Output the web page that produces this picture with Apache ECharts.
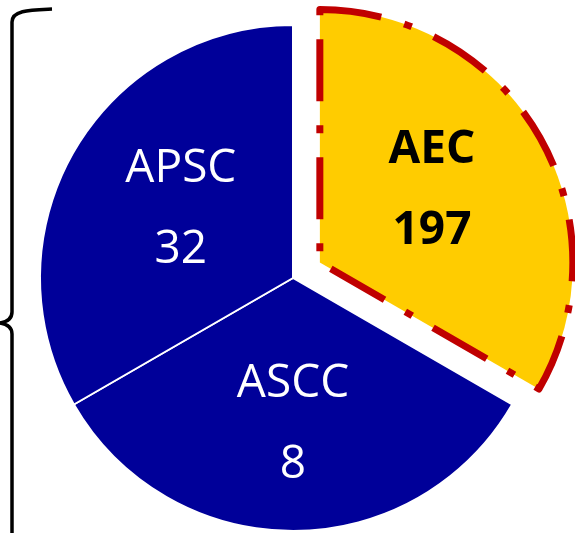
<!DOCTYPE html>
<html>
<head>
<meta charset="utf-8">
<script src="https://cdn.jsdelivr.net/npm/echarts@6/dist/echarts.min.js"></script>
<style>
  html, body { margin: 0; padding: 0; background: #fff; }
  #main { width: 575px; height: 533px; }
</style>
</head>
<body>
<div id="main"></div>
<script>
// slice names, counts shown in labels, and slice shares (source draws equal thirds)
var regions = ['AEC', 'ASCC', 'APSC'];
var counts = [197, 8, 32];
var sliceShares = [1, 1, 1];

// per-label vertical nudge
var labelDy = [-7, 17, -4];

var pieData = [];
for (var i = 0; i < regions.length; i++) {
  var highlighted = i === 0;
  pieData.push({
    name: regions[i],
    value: sliceShares[i],
    selected: highlighted,
    itemStyle: highlighted ? {
      color: '#FFCC00',
      borderColor: '#C00000',
      borderWidth: 7,
      borderType: [62, 24, 8, 24]
    } : {
      color: '#000099',
      borderColor: '#ffffff',
      borderWidth: 2
    },
    label: {
      color: highlighted ? '#000000' : '#ffffff',
      fontWeight: highlighted ? 'bold' : 'normal'
    }
  });
}

// left brace, drawn as curves + straight runs
var braceStyle = { stroke: '#000000', lineWidth: 3.5, fill: null };
var brace = [
  { type: 'bezierCurve', shape: { x1: 52, y1: 9, cpx1: 30, cpy1: 10, cpx2: 12, cpy2: 10, x2: 12, y2: 22 } },
  { type: 'line', shape: { x1: 12, y1: 22, x2: 12, y2: 312 } },
  { type: 'bezierCurve', shape: { x1: 12, y1: 312, cpx1: 12, cpy1: 319, cpx2: 6, cpy2: 322, x2: 0, y2: 323 } },
  { type: 'bezierCurve', shape: { x1: 0, y1: 323, cpx1: 6, cpy1: 324, cpx2: 12, cpy2: 327, x2: 12, y2: 334 } },
  { type: 'line', shape: { x1: 12, y1: 334, x2: 12, y2: 540 } }
];
brace.forEach(function (b) { b.style = braceStyle; b.silent = true; });

var chart = echarts.init(document.getElementById('main'));
chart.setOption({
  animation: false,
  backgroundColor: '#ffffff',
  graphic: brace,
  series: [{
    type: 'pie',
    center: [293, 278],
    radius: 253,
    startAngle: 90,
    clockwise: true,
    selectedMode: 'single',
    selectedOffset: 31,
    silent: true,
    emphasis: { disabled: true },
    label: {
      show: true,
      position: 'inside',
      fontFamily: 'Open Sans',
      fontSize: 46,
      lineHeight: 81,
      formatter: function (p) {
        return p.name + '\n' + counts[p.dataIndex];
      }
    },
    labelLine: { show: false },
    labelLayout: function (p) {
      return { dy: labelDy[p.dataIndex] };
    },
    data: pieData
  }]
});
</script>
</body>
</html>
